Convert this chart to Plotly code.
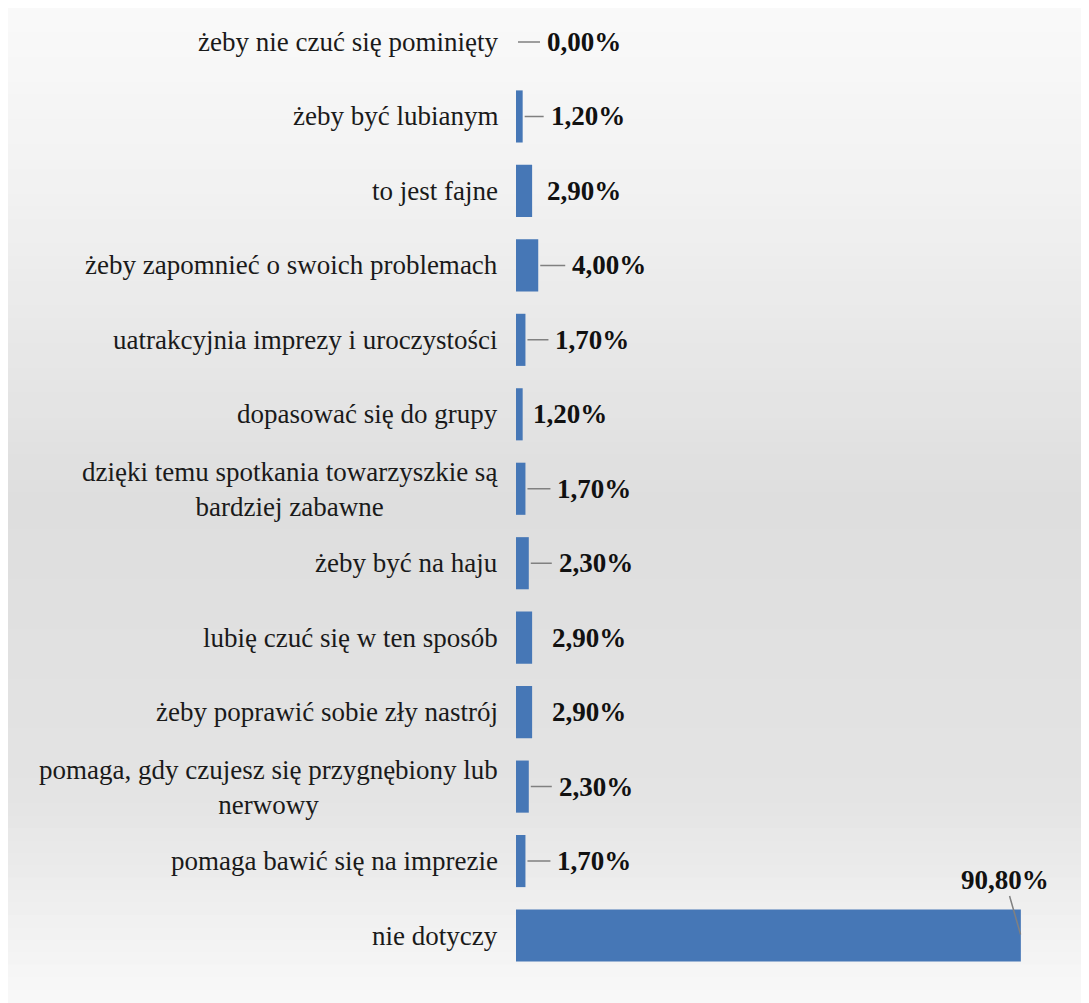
import plotly.graph_objects as go

categories = [
    "żeby nie czuć się pominięty",
    "żeby być lubianym",
    "to jest fajne",
    "żeby zapomnieć o swoich problemach",
    "uatrakcyjnia imprezy i uroczystości",
    "dopasować się do grupy",
    "dzięki temu spotkania towarzyszkie są<br>bardziej zabawne",
    "żeby być na haju",
    "lubię czuć się w ten sposób",
    "żeby poprawić sobie zły nastrój",
    "pomaga, gdy czujesz się przygnębiony lub<br>nerwowy",
    "pomaga bawić się na imprezie",
    "nie dotyczy",
]
values = [0.0, 1.2, 2.9, 4.0, 1.7, 1.2, 1.7, 2.3, 2.9, 2.9, 2.3, 1.7, 90.8]
value_labels = ["0,00%", "1,20%", "2,90%", "4,00%", "1,70%", "1,20%", "1,70%",
                "2,30%", "2,90%", "2,90%", "2,30%", "1,70%", "90,80%"]

# label placement (pixel offsets from bar end), mimicking the original layout
label_dx = [29, 26, 13, 32, 28, 8, 30, 28, 18, 18, 28, 30, None]

FONT = "Times New Roman"

W, H = 1081, 995
ML, MR, MT, MB = 508, 17, 0, 0
pw, ph = W - ML - MR, H - MT - MB
ROW = 74.46
FIRST = 34.0
y_top = -FIRST / ROW
y_bot = y_top + ph / ROW

fig = go.Figure()
fig.add_trace(go.Bar(
    x=values, y=categories, orientation="h",
    marker=dict(color="#4677b6", line=dict(width=0)),
    hoverinfo="skip",
))

stops = [(0, 250), (200, 241), (500, 222), (800, 228), (1003, 249)]
def grey(py):
    for (a, ca), (b, cb) in zip(stops[:-1], stops[1:]):
        if a <= py <= b:
            t = (py - a) / (b - a)
            return round(ca + (cb - ca) * t)
    return 250
shapes = []
n = 80
for i in range(n):
    y0p = H * i / n
    y1p = H * (i + 1) / n
    g = grey((y0p + y1p) / 2 + 8)
    shapes.append(dict(
        type="rect", xref="paper", yref="paper", layer="below",
        x0=(0 - ML) / pw, x1=(W - ML) / pw,
        y0=(H - MB - y1p) / ph, y1=(H - MB - y0p) / ph + 0.001,
        fillcolor=f"rgb({g},{g},{g})", line=dict(width=0),
    ))

annotations = []
for c in categories:
    multi = "<br>" in c
    annotations.append(dict(
        x=0, xref="paper", y=c, yref="y", text=c, showarrow=False,
        xanchor="right", yanchor="middle", align="center",
        xshift=-16, yshift=-1 if multi else 0,
        font=dict(family=FONT, size=27, color="#1a1a1a"),
    ))

for c, v, lab, dx in zip(categories, values, value_labels, label_dx):
    if dx is None:
        annotations.append(dict(
            x=v, y=c, xref="x", yref="y", text=f"<b>{lab}</b>",
            showarrow=True, arrowhead=0, arrowwidth=1.5, arrowcolor="#808080",
            ax=-16, ay=-56, standoff=1,
            font=dict(family=FONT, size=27, color="#111111"),
        ))
    else:
        annotations.append(dict(
            x=v, y=c, xref="x", yref="y", text=f"<b>{lab}</b>",
            showarrow=dx > 20, arrowhead=0, arrowwidth=1.5, arrowcolor="#808080",
            ax=dx, ay=0, xanchor="left", standoff=2, startstandoff=5,
            xshift=0 if dx > 20 else dx,
            font=dict(family=FONT, size=27, color="#111111"),
        ))

fig.update_layout(
    width=W, height=H,
    margin=dict(l=ML, r=MR, t=MT, b=MB, pad=0),
    paper_bgcolor="white", plot_bgcolor="rgba(0,0,0,0)",
    bargap=0.30, showlegend=False,
    shapes=shapes, annotations=annotations,
    xaxis=dict(range=[0, 100], visible=False, fixedrange=True),
    yaxis=dict(range=[y_bot, y_top], showticklabels=False, showgrid=False,
               zeroline=False, showline=False, ticks=""),
)
fig.write_html("out.html")
